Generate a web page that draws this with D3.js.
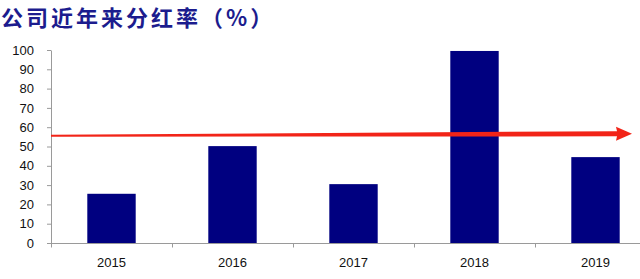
<!DOCTYPE html>
<html>
<head>
<meta charset="utf-8">
<script src="https://cdn.jsdelivr.net/npm/d3@7"></script>
<style>
  body { margin: 0; background: #fff; }
  svg { display: block; }
</style>
</head>
<body>
<svg id="chart" width="640" height="279"></svg>
<script>
// data
const years = ["2015", "2016", "2017", "2018", "2019"];
const payoutRatio = [25.5, 50.2, 30.5, 99.5, 44.5];
const yTicks = [0, 10, 20, 30, 40, 50, 60, 70, 80, 90, 100];
const trendStart = 55.6;
const trendEnd = 56.6;

const svg = d3.select("#chart");

const margin = { top: 50, left: 51 },
    plotBottom = 243,
    plotRight = 656;

const x = d3.scaleBand()
    .domain(years)
    .range([margin.left, plotRight])
    .paddingInner(0.6)
    .paddingOuter(0.3);

const y = d3.scaleLinear()
    .domain([0, 100])
    .range([plotBottom, margin.top]);

// title
svg.append("text")
    .attr("x", 1)
    .attr("y", 26)
    .attr("font-family", "'Noto Sans CJK SC', sans-serif")
    .attr("font-size", 22)
    .attr("font-weight", "bold")
    .attr("letter-spacing", 3)
    .attr("fill", "#1c1c8e")
    .text("公司近年来分红率（%）");

// bars
svg.append("g")
    .selectAll("rect")
    .data(years)
    .join("rect")
    .attr("x", d => x(d))
    .attr("width", x.bandwidth())
    .attr("y", (d, i) => y(payoutRatio[i]))
    .attr("height", (d, i) => plotBottom - y(payoutRatio[i]))
    .attr("fill", "#000080");

// y axis
const yAxis = svg.append("g")
    .attr("transform", "translate(" + margin.left + ",0)")
    .call(d3.axisLeft(y).tickValues(yTicks).tickSize(4).tickSizeOuter(0).tickPadding(13));
yAxis.selectAll("line, path").attr("stroke", "#9a9a9a");
yAxis.selectAll("text")
    .attr("font-family", "'Liberation Sans', Arial, sans-serif")
    .attr("font-size", 13)
    .attr("fill", "#111");

// x axis, ticks sit on the band edges
const xAxis = svg.append("g")
    .attr("transform", "translate(0," + (plotBottom + 0.5) + ")");
xAxis.append("line")
    .attr("x1", margin.left)
    .attr("x2", plotRight)
    .attr("stroke", "#9a9a9a");
xAxis.selectAll("line.tick")
    .data(years)
    .join("line")
    .attr("class", "tick")
    .attr("x1", d => x(d) - x.step() * 0.3 + 0.5)
    .attr("x2", d => x(d) - x.step() * 0.3 + 0.5)
    .attr("y1", 0)
    .attr("y2", 4)
    .attr("stroke", "#9a9a9a");
xAxis.selectAll("text")
    .data(years)
    .join("text")
    .attr("x", d => x(d) + x.bandwidth() / 2)
    .attr("y", 23)
    .attr("text-anchor", "middle")
    .attr("font-family", "'Liberation Sans', Arial, sans-serif")
    .attr("font-size", 13)
    .attr("fill", "#111")
    .text(d => d);

// red trend arrow, tapering from thin to thick
const xa0 = margin.left, xa1 = 617, xTip = 632;
const ya0 = y(trendStart), ya1 = y(trendEnd);
const arrow = d3.path();
arrow.moveTo(xa0, ya0 - 1);
arrow.lineTo(xa1, ya1 - 2.6);
arrow.lineTo(xa1 - 1, ya1 - 7);
arrow.lineTo(xTip, ya1);
arrow.lineTo(xa1 - 1, ya1 + 7);
arrow.lineTo(xa1, ya1 + 2.6);
arrow.lineTo(xa0, ya0 + 1);
arrow.closePath();
svg.append("path")
    .attr("d", arrow.toString())
    .attr("fill", "#f22418");
</script>
</body>
</html>
